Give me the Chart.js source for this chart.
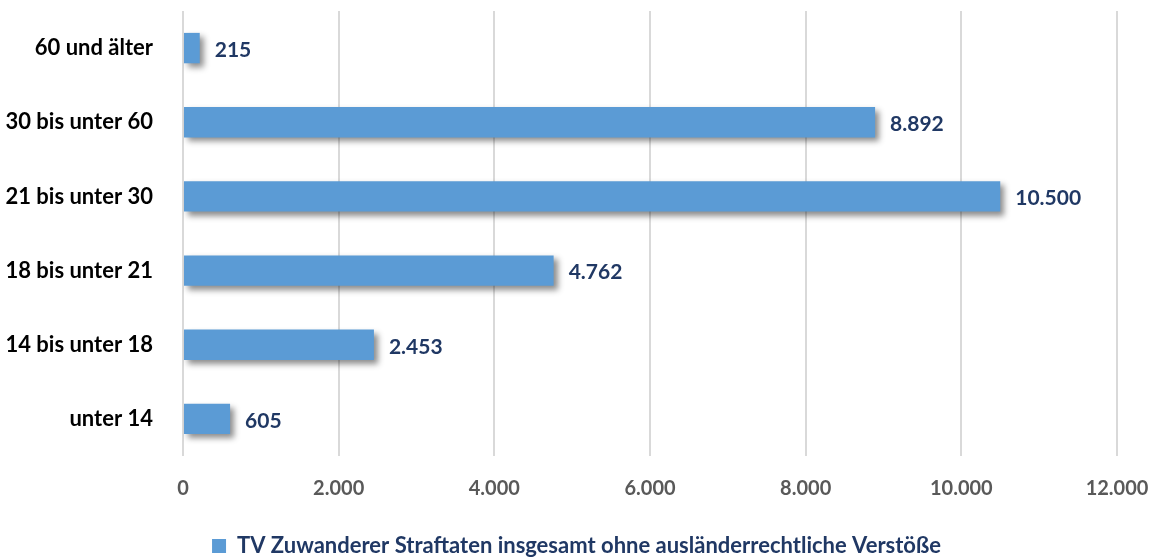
<!DOCTYPE html>
<html>
<head>
<meta charset="utf-8">
<script src="https://cdn.jsdelivr.net/npm/chart.js@4"></script>
<style>
  html, body { margin: 0; padding: 0; background: #fff; }
  #wrap { width: 1153px; height: 557px; }
</style>
</head>
<body>
<div id="wrap"><canvas id="myChart" width="1153" height="557"></canvas></div>
<script>
// Age groups (top to bottom) and suspect counts
const ageGroups = ["60 und älter", "30 bis unter 60", "21 bis unter 30", "18 bis unter 21", "14 bis unter 18", "unter 14"];
const suspects = [215, 8892, 10500, 4762, 2453, 605];
const seriesName = "TV Zuwanderer Straftaten insgesamt ohne ausländerrechtliche Verstöße";
const xMax = 12000;
const xStep = 2000;

const fontFamily = "Lato, 'Open Sans', sans-serif";

function formatDE(v) {
  return v.toLocaleString("de-DE");
}

// Soft drop shadow behind the bars
const barShadow = {
  id: "barShadow",
  beforeDatasetsDraw(chart) {
    const ctx = chart.ctx;
    ctx.save();
    ctx.shadowColor = "rgba(0, 0, 0, 0.45)";
    ctx.shadowBlur = 6;
    ctx.shadowOffsetX = 4;
    ctx.shadowOffsetY = 4;
  },
  afterDatasetsDraw(chart) {
    chart.ctx.restore();
  },
};

// Value labels at the end of each bar
const valueLabels = {
  id: "valueLabels",
  afterDatasetsDraw(chart) {
    const ctx = chart.ctx;
    const meta = chart.getDatasetMeta(0);
    ctx.save();
    ctx.font = "bold 21px " + fontFamily;
    ctx.fillStyle = "#203864";
    ctx.textAlign = "left";
    ctx.textBaseline = "middle";
    meta.data.forEach((bar, i) => {
      ctx.fillText(formatDE(suspects[i]), bar.x + 15, bar.y + 2);
    });
    ctx.restore();
  },
};

// push the legend down a bit (the library keeps 10px spare below it)
const legendShift = {
  id: "legendShift",
  afterLayout(chart) {
    chart.legend.top += 10;
    chart.legend.bottom += 10;
  },
};

const ctx = document.getElementById("myChart").getContext("2d");

new Chart(ctx, {
  type: "bar",
  data: {
    labels: ageGroups,
    datasets: [
      {
        label: seriesName,
        data: suspects,
        backgroundColor: "#5b9bd5",
        borderWidth: 0,
        categoryPercentage: 1,
        barPercentage: 0.41,
      },
    ],
  },
  options: {
    indexAxis: "y",
    responsive: false,
    animation: false,
    layout: {
      padding: { left: 0, right: 0, top: 11, bottom: 0 },
    },
    scales: {
      x: {
        min: 0,
        max: xMax,
        ticks: {
          stepSize: xStep,
          callback: (v) => formatDE(v),
          color: "#595959",
          font: { family: fontFamily, size: 20, weight: "bold" },
          padding: 21,
        },
        grid: {
          color: "#d9d9d9",
          lineWidth: 2,
          drawTicks: false,
        },
        border: { display: false },
        afterFit(scale) {
          scale.height = 68;
          scale.paddingLeft = 0;
          scale.paddingRight = 36;
        },
      },
      y: {
        ticks: {
          color: "#000000",
          font: { family: fontFamily, size: 22, weight: "bold" },
          padding: 22,
        },
        grid: { display: false },
        border: { display: false },
        afterFit(scale) {
          scale.width = 183;
          scale.paddingTop = 0;
          scale.paddingBottom = 0;
        },
      },
    },
    plugins: {
      legend: {
        position: "bottom",
        labels: {
          color: "#203864",
          font: { family: fontFamily, size: 22, weight: "bold" },
          usePointStyle: true,
          pointStyle: "rect",
          boxWidth: 14,
          boxHeight: 14,
          padding: 1,
        },
      },
      tooltip: { enabled: false },
    },
  },
  plugins: [barShadow, valueLabels, legendShift],
});
</script>
</body>
</html>
